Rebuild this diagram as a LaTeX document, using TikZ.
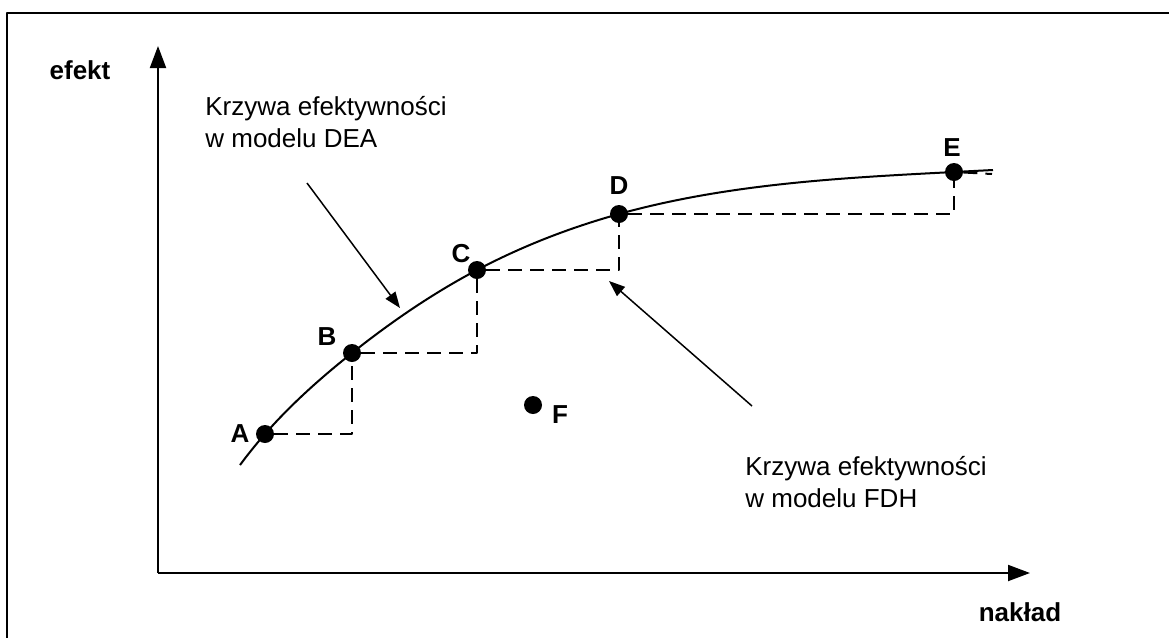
\documentclass[tikz,border=0pt]{standalone}
\usepackage{fontspec}
\setmainfont{Liberation Sans}
\usetikzlibrary{arrows.meta,hobby}
\begin{document}
\begin{tikzpicture}[x=0.5pt,y=-0.5pt,line join=round,
    font=\fontsize{13}{16}\selectfont,
    axis/.style={line width=1pt,-{Triangle[length=11pt,width=8pt]}},
    pointer/.style={line width=0.75pt,-{Triangle[length=8pt,width=6pt]}},
    dot/.style={circle,fill,inner sep=0pt,minimum size=9pt},
    fdh/.style={dashed,line width=1pt,dash pattern=on 7pt off 4pt},
    lbl/.style={font=\fontsize{13}{16}\selectfont\bfseries}]
    \useasboundingbox (0,0) rectangle (1169,638);
    % ramka
    \draw[line width=1pt] (7,638) |- (1169,13);
    % osie
    \coordinate (O) at (158,573);
    \coordinate (ytop) at (158,46);
    \coordinate (xend) at (1030,573);
    \draw[axis] (O) -- (ytop);
    \draw[axis] (O) -- (xend);
    \node[lbl] (efekt) at (80,70) {efekt};
    \node[lbl] (naklad) at (1020,612) {nakład};
    % obiekty
    \node[dot] (A) at (265,434) {};
    \node[dot] (B) at (352,353) {};
    \node[dot] (C) at (477,270) {};
    \node[dot] (D) at (619,214) {};
    \node[dot] (E) at (954,172) {};
    \node[dot] (F) at (533,405) {};
    \node[lbl] (lA) at (240,434) {A};
    \node[lbl] (lB) at (327,337) {B};
    \node[lbl] (lC) at (461,254) {C};
    \node[lbl] (lD) at (619,186) {D};
    \node[lbl] (lE) at (952,148) {E};
    \node[lbl] (lF) at (560,415) {F};
    % krzywa DEA
    \coordinate (c0) at (240,465);
    \coordinate (c1) at (993,170);
    \draw[line width=1pt,use Hobby shortcut] (c0) .. (A.center) .. (B.center)
        .. (C.center) .. (D.center) .. (E.center) .. (c1);
    % schodki FDH
    \draw[fdh] (A) -| (B);
    \draw[fdh] (B) -| (C);
    \draw[fdh] (C) -| (D);
    \draw[fdh] (D) -| (E);
    \coordinate (e1) at (992,174);
    \draw[fdh] (E) -- (e1);
    % opisy
    \node[anchor=north west,inner sep=0pt,align=left] (dea) at (205,96)
        {Krzywa efektywności\\w modelu DEA};
    \node[anchor=north west,inner sep=0pt,align=left] (fdhtxt) at (745,456)
        {Krzywa efektywności\\w modelu FDH};
    \coordinate (p1) at (307,183);
    \coordinate (p2) at (400,308);
    \coordinate (q1) at (752,406);
    \coordinate (q2) at (609,281);
    \draw[pointer] (p1) -- (p2);
    \draw[pointer] (q1) -- (q2);
\end{tikzpicture}
\end{document}
